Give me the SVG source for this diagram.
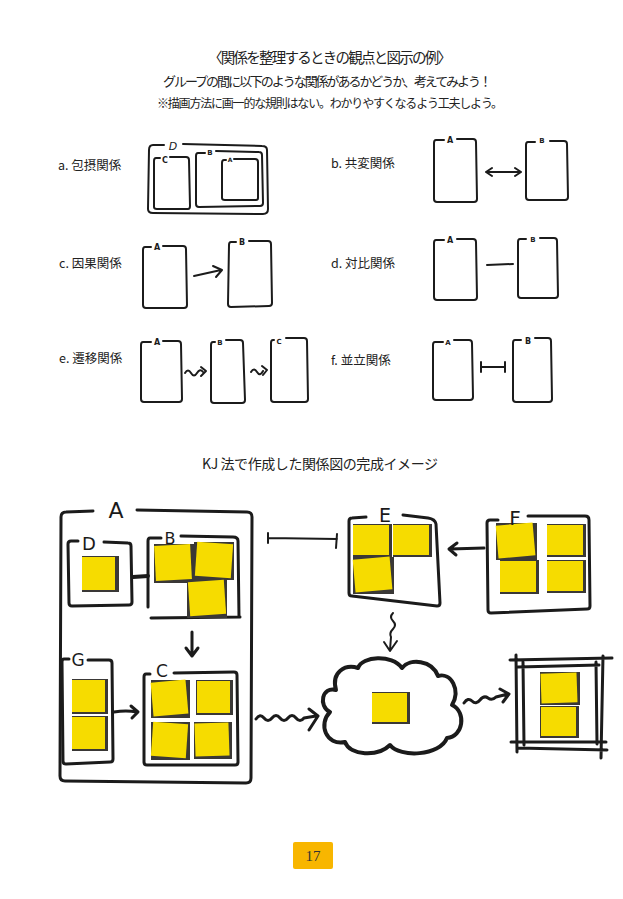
<svg xmlns="http://www.w3.org/2000/svg" width="623" height="899" viewBox="0 0 623 899">
<style>
.ln{fill:none;stroke:#1b1b1b;stroke-linecap:round;stroke-linejoin:round}
.s2{stroke-width:2}
.s3{stroke-width:3}
.s4{stroke-width:4}
.sh{fill:#3a3836}
.ny{fill:#f6dc00}
.jp{font-family:"Noto Sans CJK JP",sans-serif;fill:#222}
.lb{font-family:"Noto Sans CJK JP",sans-serif;fill:#222;font-size:12.5px}
.sm{font-family:"DejaVu Sans",sans-serif;font-weight:bold;fill:#1b1b1b;text-anchor:middle}
.hd{font-family:"DejaVu Sans",sans-serif;fill:#1b1b1b;text-anchor:middle}
</style>
<rect width="623" height="899" fill="#ffffff"/>

<g id="header">
<text class="jp" x="208" y="63" font-size="14.5" textLength="244">〈関係を整理するときの観点と図示の例〉</text>
<text class="jp" x="163" y="86" font-size="13" textLength="329">グループの間に以下のような関係があるかどうか、考えてみよう！</text>
<text class="jp" x="157" y="108" font-size="12" textLength="346">※描画方法に画一的な規則はない。わかりやすくなるよう工夫しよう。</text>
</g>

<g id="labels">
<text class="lb" x="58" y="170">a. 包摂関係</text>
<text class="lb" x="331" y="168">b. 共変関係</text>
<text class="lb" x="59" y="268">c. 因果関係</text>
<text class="lb" x="331" y="268">d. 対比関係</text>
<text class="lb" x="59" y="363">e. 遷移関係</text>
<text class="lb" x="331" y="365">f. 並立関係</text>
</g>

<g id="ex-a">
<path class="ln s2" d="M164,145 L153,145 Q149,145 149,150 L148,209 Q148,213 153,213 L263,214 Q268,214 268,209 L267,150 Q267,146 262,146 L183,144"/>
<text class="hd" x="173" y="150" font-size="11" font-style="italic">D</text>
<path class="ln s2" d="M160,158 L156,158 Q154,158 154,161 L154,207 Q154,209 157,209 L188,209 Q190,209 190,206 L189,160 Q189,157 186,157 L170,157"/>
<text class="sm" x="165" y="163" font-size="8">C</text>
<path class="ln s2" d="M205,153 L198,153 Q196,153 196,156 L196,204 Q196,207 199,207 L260,206 Q263,206 263,203 L262,155 Q262,152 259,152 L216,151"/>
<text class="sm" x="210" y="155" font-size="7">B</text>
<path class="ln s2" d="M226,160 L224,160 Q222,160 222,163 L222,198 Q222,200 225,200 L256,200 Q258,200 258,198 L258,162 Q258,159 255,159 L234,159"/>
<text class="sm" x="230" y="162" font-size="6">A</text>
</g>

<g id="ex-b">
<path class="ln s2" d="M444,140 L436,140 Q434,140 434,143 L434,199 Q434,202 437,202 L474,202 Q477,202 477,199 L476,142 Q476,139 473,139 L457,139"/>
<text class="sm" x="450" y="143" font-size="8">A</text>
<path class="ln s2" d="M535,142 L528,142 Q526,142 526,145 L526,197 Q526,200 529,200 L565,200 Q568,200 568,197 L567,144 Q567,141 564,141 L550,141"/>
<text class="sm" x="542" y="143" font-size="7">B</text>
</g>

<g id="ex-c">
<path class="ln s2" d="M151,247 L145,247 Q143,247 143,250 L143,305 Q143,308 146,308 L184,308 Q187,308 187,305 L186,249 Q186,246 183,246 L163,246"/>
<text class="sm" x="157" y="250" font-size="8">A</text>
<path class="ln s2" d="M236,242 L231,242 Q229,242 229,245 L228,304 Q228,307 231,307 L269,306 Q272,306 272,303 L271,244 Q271,241 268,241 L249,241"/>
<text class="sm" x="242" y="245" font-size="8">B</text>
</g>

<g id="ex-d">
<path class="ln s2" d="M444,240 L436,240 Q434,240 434,243 L434,297 Q434,300 437,300 L474,300 Q477,300 477,297 L476,242 Q476,239 473,239 L457,239"/>
<text class="sm" x="450" y="243" font-size="8">A</text>
<path class="ln s2" d="M526,239 L520,239 Q518,239 518,242 L518,295 Q518,298 521,298 L555,298 Q558,298 558,295 L557,241 Q557,238 554,238 L540,238"/>
<text class="sm" x="533" y="242" font-size="7">B</text>
</g>

<g id="ex-e">
<path class="ln s2" d="M151,342 L143,342 Q141,342 141,345 L141,399 Q141,402 144,402 L179,402 Q182,402 182,399 L181,344 Q181,341 178,341 L163,341"/>
<text class="sm" x="157" y="345" font-size="8">A</text>
<path class="ln s2" d="M215,342 L213,342 Q211,342 211,345 L211,400 Q211,403 214,403 L242,403 Q245,403 245,400 L243,343 Q243,340 240,340 L226,340"/>
<text class="sm" x="220" y="345" font-size="7">B</text>
<path class="ln s2" d="M274,340 L273,340 Q271,340 271,343 L271,399 Q271,402 274,402 L305,402 Q308,402 308,399 L307,341 Q307,338 304,338 L286,338"/>
<text class="sm" x="279" y="344" font-size="7">C</text>
</g>

<g id="ex-f">
<path class="ln s2" d="M443,342 L435,342 Q433,342 433,345 L433,397 Q433,400 436,400 L470,400 Q473,400 473,397 L472,343 Q472,340 469,340 L454,340"/>
<text class="sm" x="448" y="345" font-size="7">A</text>
<path class="ln s2" d="M521,340 L515,340 Q513,340 513,343 L513,399 Q513,402 516,402 L549,402 Q552,402 552,399 L551,341 Q551,338 548,338 L535,338"/>
<text class="sm" x="528" y="344" font-size="8">B</text>
</g>

<g id="ex-connectors">
<path class="ln s2" d="M487,172 L520,172 M492,168 L486,172 L492,176 M515,168 L521,172 L515,176" stroke-width="2.6"/>
<path class="ln s2" d="M194,276 L221,270 M213,266 L222,270 L216,277" stroke-width="2.4"/>
<path class="ln s2" d="M487,265 L513,264"/>
<path class="ln s2" d="M185,373 Q188,368 191,373 T197,373 T203,372 M201,367 L206,371 L201,376"/>
<path class="ln s2" d="M251,372 Q254,367 257,372 T263,371 M262,366 L267,370 L263,375"/>
<path class="ln s2" d="M481,367 L505,367 M481,362 L481,372 M505,362 L505,372"/>
</g>

<text class="jp" x="202" y="469" font-size="14" textLength="236">KJ 法で作成した関係図の完成イメージ</text>

<g id="node-A">
<path class="ln s3" d="M93,511 L66,512 Q61,512 61,517 L60,776 Q60,781 65,781 L246,783 Q251,783 251,778 L252,517 Q252,512 247,512 L137,510"/>
<text class="hd" x="116" y="518" font-size="22">A</text>
</g>

<g id="node-D">
<path class="ln s3" d="M78,541 L71,541 Q68,541 68,544 L69,603 Q69,606 72,606 L129,605 Q132,605 132,602 L131,546 Q131,543 128,543 L104,542"/>
<rect class="sh" x="82" y="556" width="37" height="36"/>
<rect class="ny" x="82" y="557" width="33" height="33"/>
<text class="hd" x="89" y="550" font-size="18">D</text>
</g>

<g id="node-B">
<path class="ln s3" d="M161,538 L150,538 Q148,538 148,541 L148,607 M181,536 L233,537 Q238,537 238,541 L239,617 M151,618 L240,617"/>
<rect class="sh" x="154" y="544" width="40" height="39"/>
<rect class="ny" x="155" y="545" width="36" height="35" transform="rotate(-3 173 562)"/>
<rect class="sh" x="194" y="542" width="40" height="38"/>
<rect class="ny" x="196" y="543" width="36" height="34" transform="rotate(4 214 560)"/>
<rect class="sh" x="187" y="580" width="40" height="38"/>
<rect class="ny" x="189" y="581" width="36" height="34" transform="rotate(-4 207 598)"/>
<text class="hd" x="170" y="544" font-size="16">B</text>
</g>

<g id="node-G">
<path class="ln s3" d="M69,659 L64,659 Q62,659 62,662 L63,761 Q63,764 66,764 L110,762 Q113,762 113,759 L112,663 Q112,660 109,660 L88,660"/>
<rect class="sh" x="72" y="679" width="36" height="35"/>
<rect class="ny" x="72" y="680" width="33" height="32"/>
<rect class="sh" x="72" y="716" width="36" height="35"/>
<rect class="ny" x="72" y="717" width="33" height="32"/>
<text class="hd" x="78" y="666" font-size="17">G</text>
</g>

<g id="node-C">
<path class="ln s3" d="M150,674 L146,674 Q144,674 144,677 L144,762 Q144,765 147,765 L235,765 Q238,765 238,762 L237,675 Q237,672 234,672 L174,673"/>
<rect class="sh" x="151" y="680" width="39" height="38"/>
<rect class="ny" x="152" y="681" width="35" height="34" transform="rotate(-5 170 698)"/>
<rect class="sh" x="196" y="680" width="37" height="35"/>
<rect class="ny" x="197" y="681" width="33" height="32"/>
<rect class="sh" x="151" y="722" width="39" height="38"/>
<rect class="ny" x="152" y="723" width="35" height="34" transform="rotate(4 170 740)"/>
<rect class="sh" x="194" y="722" width="38" height="37"/>
<rect class="ny" x="195" y="723" width="34" height="33" transform="rotate(-2 212 740)"/>
<text class="hd" x="162" y="677" font-size="17">C</text>
</g>

<g id="node-E">
<path class="ln s3" d="M366,517 L352,518 Q349,518 349,521 L349,593 Q349,596 352,596 L437,606 Q440,606 440,603 L436,524 Q435,519 428,518 L403,515"/>
<rect class="sh" x="353" y="524" width="39" height="33"/>
<rect class="ny" x="353" y="525" width="36" height="30"/>
<rect class="sh" x="393" y="524" width="39" height="33"/>
<rect class="ny" x="393" y="525" width="36" height="30"/>
<rect class="sh" x="353" y="557" width="41" height="37"/>
<rect class="ny" x="354" y="558" width="37" height="33" transform="rotate(-5 372 574)"/>
<text class="hd" x="385" y="522" font-size="19">E</text>
</g>

<g id="node-F">
<path class="ln s3" d="M498,520 L490,520 Q487,520 487,523 L488,610 Q488,613 491,613 L587,609 Q590,609 590,606 L589,520 Q589,516 585,516 L528,516"/>
<rect class="sh" x="496" y="523" width="41" height="37"/>
<rect class="ny" x="497" y="524" width="37" height="33" transform="rotate(-5 515 540)"/>
<rect class="sh" x="547" y="524" width="39" height="33"/>
<rect class="ny" x="547" y="525" width="36" height="30"/>
<rect class="sh" x="500" y="560" width="39" height="34"/>
<rect class="ny" x="500" y="561" width="36" height="31"/>
<rect class="sh" x="547" y="560" width="39" height="33"/>
<rect class="ny" x="547" y="561" width="36" height="30"/>
<text class="hd" x="515" y="525" font-size="20">F</text>
</g>

<g id="node-cloud">
<path class="ln s4" d="M336,690 C322,686 318,706 330,712 C318,724 326,746 345,742 C350,756 378,757 390,745 C400,758 440,756 447,738 C463,737 467,712 452,705 C461,690 451,672 438,676 C432,660 410,658 402,668 C392,654 362,656 358,668 C345,664 331,672 336,690 Z"/>
<rect class="sh" x="372" y="692" width="38" height="32"/>
<rect class="ny" x="372" y="693" width="35" height="29"/>
</g>

<g id="node-frame">
<path class="ln s3" d="M510,660 L612,658 M518,667 L599,665 M516,655 L517,752 M523,662 L524,745 M603,656 L601,758 M596,662 L597,744 M511,742 L606,742 M518,748 L607,750"/>
<rect class="sh" x="540" y="672" width="40" height="33"/>
<rect class="ny" x="541" y="673" width="36" height="30" transform="rotate(-2 559 688)"/>
<rect class="sh" x="540" y="706" width="39" height="32"/>
<rect class="ny" x="541" y="707" width="35" height="29"/>
</g>

<g id="connectors">
<path class="ln s4" d="M133,577 L148,576"/>
<path class="ln s3" d="M192,632 L192,655 M186,648 L192,656 L198,648"/>
<path class="ln s3" d="M114,712 Q126,710 137,712 M131,706 L138,712 L132,718"/>
<path class="ln s2" d="M268,538 L337,539 M268,533 L268,543 M337,534 L336,548" stroke-width="2.4"/>
<path class="ln s3" d="M484,548 L450,549 M457,543 L449,549 L456,555"/>
<path class="ln s2" d="M393,613 Q389,617 393,621 T393,629 T391,637 L390,650 M384,642 L390,651 L397,641" stroke-width="2.4"/>
<path class="ln s3" d="M256,719 Q260,713 264,718 T272,718 T280,718 T288,718 T296,718 T304,718 L316,716 M309,709 L318,716 L309,730"/>
<path class="ln s3" d="M464,703 Q468,697 472,701 T480,700 T488,698 T496,697 L508,694 M500,689 L509,694 L503,702"/>
</g>

<g id="page-number">
<rect x="293" y="842" width="40" height="27" rx="2" fill="#f8b600"/>
<text x="313" y="861" font-family="Liberation Serif, serif" font-size="15" fill="#333" text-anchor="middle">17</text>
</g>
</svg>
